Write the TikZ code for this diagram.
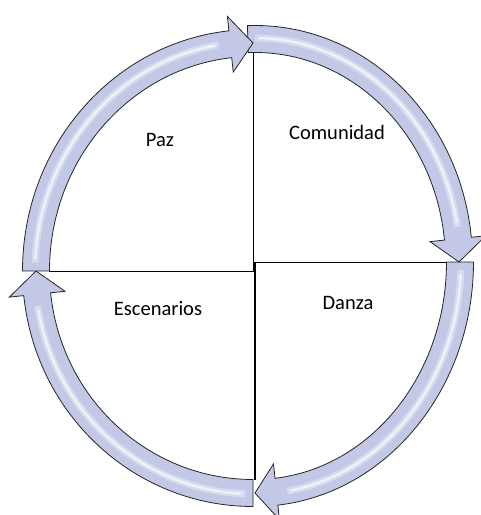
\documentclass[tikz,border=0pt]{standalone}
\usepackage{fontspec}
\setmainfont{Carlito}
\definecolor{arcfill}{RGB}{194,200,230}
\tikzset{
  arcarrow/.style={draw=black!85, line width=0.8pt, fill=arcfill, line join=miter},
  gloss/.style={white, opacity=0.35, line width=7pt},
  glosscore/.style={white, opacity=0.6, line width=2.5pt},
  divider/.style={black, line width=0.6pt},
  label/.style={font=\fontsize{20.5}{24}\selectfont}
}
% curved cycle arrow: cx, cy, rx, ry, start angle, end angle (clockwise)
\newcommand{\cyclearrow}[6]{%
  \pgfmathsetmacro{\hb}{#6+6}
  \pgfmathsetmacro{\bw}{13.5}
  \pgfmathsetmacro{\hw}{28}
  \draw[arcarrow] ({#1+(#3+\bw)*cos(#5)},{#2+(#4+\bw)*sin(#5)})
     arc[start angle=#5, end angle=\hb, x radius=#3+\bw, y radius=#4+\bw]
     -- ({#1+(#3+\hw)*cos(\hb)},{#2+(#4+\hw)*sin(\hb)})
     -- ({#1+#3*cos(#6)},{#2+#4*sin(#6)})
     -- ({#1+(#3-\hw)*cos(\hb)},{#2+(#4-\hw)*sin(\hb)})
     -- ({#1+(#3-\bw)*cos(\hb)},{#2+(#4-\bw)*sin(\hb)})
     arc[start angle=\hb, end angle=#5, x radius=#3-\bw, y radius=#4-\bw]
     -- cycle;
  \draw[gloss] ({#1+(#3+1)*cos(#5-2)},{#2+(#4+1)*sin(#5-2)})
     arc[start angle=#5-2, end angle=\hb+3, x radius=#3+1, y radius=#4+1];
  \draw[glosscore] ({#1+(#3+1)*cos(#5-3)},{#2+(#4+1)*sin(#5-3)})
     arc[start angle=#5-3, end angle=\hb+4, x radius=#3+1, y radius=#4+1];
}
\begin{document}
\begin{tikzpicture}[x=1pt, y=1pt]
   \useasboundingbox (0,0) rectangle (481,515);

   % quadrant dividers
   \coordinate (topend) at (253,462);
   \coordinate (leftend) at (49,244);
   \coordinate (midl) at (253,244);
   \coordinate (midr) at (255,253);
   \coordinate (rightend) at (447,253);
   \coordinate (botend) at (255,35);

   \draw[divider] (topend) -- (midl) -- (leftend);
   \draw[divider] (rightend) -- (midr);
   \draw[divider, line width=1.3pt] (midr) -- (botend);

   % arrows of the cycle
   \cyclearrow{253}{244}{217}{222}{270}{180}
   \cyclearrow{255}{253}{205}{231}{0}{-90}
   \cyclearrow{255}{253}{204}{223}{92}{0}
   \cyclearrow{253}{244}{217}{228}{180}{90}

   \node[label] (paz) at (160,375) {Paz};
   \node[label] (comunidad) at (337,383) {Comunidad};
   \node[label] (escenarios) at (158,206) {Escenarios};
   \node[label] (danza) at (348,212) {Danza};
\end{tikzpicture}
\end{document}
